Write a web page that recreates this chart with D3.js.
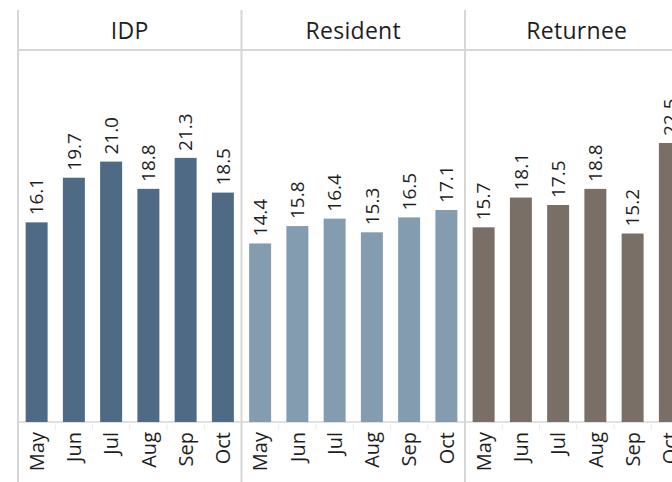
<!DOCTYPE html>
<html lang="en">
<head>
    <meta charset="UTF-8">
    <title>Monthly values by status</title>
    <style>
        body { margin: 0; background: #fff; }
        svg { display: block; font-family: "Open Sans", "Noto Sans", sans-serif; }
    </style>
</head>
<body>
<svg></svg>
<script src="https://d3js.org/d3.v7.min.js"></script>
<script>
    var groups = ["IDP", "Resident", "Returnee"];
    var months = ["May", "Jun", "Jul", "Aug", "Sep", "Oct"];
    var idpValues = [16.1, 19.7, 21.0, 18.8, 21.3, 18.5];
    var residentValues = [14.4, 15.8, 16.4, 15.3, 16.5, 17.1];
    var returneeValues = [15.7, 18.1, 17.5, 18.8, 15.2, 22.5];
    var groupColors = ["#4e6a84", "#849cb0", "#7a6f66"];

    var width = 672;
    var height = 482;
    var left = 18;
    var paneWidth = 223.5;
    var headerTop = 10;
    var plotTop = 50;
    var plotBottom = 422;
    var lineColor = "#d6d6d6";
    var textColor = "#1e1e1e";

    var seriesByGroup = [idpValues, residentValues, returneeValues];

    var svg = d3.select("svg")
        .attr("width", width)
        .attr("height", height);

    var paneScale = d3.scaleBand().domain(groups)
        .range([left, left + paneWidth * groups.length]);
    var xScale = d3.scaleBand().domain(months)
        .range([0, paneWidth])
        .paddingInner(0.41)
        .paddingOuter(0.205);
    var yScale = d3.scaleLinear().domain([0, 30]).range([plotBottom, plotTop]);

    // header row line and axis baseline
    svg.append("line")
        .attr("x1", left).attr("x2", width)
        .attr("y1", plotTop).attr("y2", plotTop)
        .attr("stroke", lineColor).attr("stroke-width", 2);
    svg.append("line")
        .attr("x1", left).attr("x2", width)
        .attr("y1", plotBottom).attr("y2", plotBottom)
        .attr("stroke", lineColor).attr("stroke-width", 1.5);

    var pane = svg.selectAll("g.pane")
        .data(groups)
        .enter().append("g")
        .attr("class", "pane")
        .attr("transform", function (d) {
            return "translate(" + paneScale(d) + ",0)";
        });

    // small separators between month labels
    pane.selectAll("line.sep")
        .data(months.slice(1))
        .enter().append("line")
        .attr("class", "sep")
        .attr("x1", function (d) { return xScale(d) - xScale.step() * xScale.paddingInner() / 2; })
        .attr("x2", function (d) { return xScale(d) - xScale.step() * xScale.paddingInner() / 2; })
        .attr("y1", plotBottom).attr("y2", plotBottom + 8)
        .attr("stroke", "#ececec").attr("stroke-width", 1);

    pane.append("text")
        .attr("x", paneWidth / 2)
        .attr("y", (headerTop + plotTop) / 2 + 1)
        .attr("dy", "0.35em")
        .attr("text-anchor", "middle")
        .attr("font-size", "23px")
        .attr("letter-spacing", "0.3px")
        .attr("fill", textColor)
        .text(function (d) { return d; });

    pane.each(function (g, gi) {
        var vals = seriesByGroup[gi];
        var sel = d3.select(this);

        sel.selectAll("rect")
            .data(vals)
            .enter().append("rect")
            .attr("x", function (d, i) { return xScale(months[i]); })
            .attr("y", function (d) { return yScale(d); })
            .attr("width", xScale.bandwidth())
            .attr("height", function (d) { return plotBottom - yScale(d); })
            .attr("fill", groupColors[gi]);

        sel.selectAll("text.val")
            .data(vals)
            .enter().append("text")
            .attr("class", "val")
            .attr("transform", function (d, i) {
                var cx = xScale(months[i]) + xScale.bandwidth() / 2;
                return "translate(" + cx + "," + (yScale(d) - 7) + ") rotate(-90)";
            })
            .attr("dy", "0.36em")
            .attr("font-size", "19px")
            .attr("fill", textColor)
            .text(function (d) { return d.toFixed(1); });

        sel.selectAll("text.month")
            .data(months)
            .enter().append("text")
            .attr("class", "month")
            .attr("transform", function (d) {
                var cx = xScale(d) + xScale.bandwidth() / 2;
                return "translate(" + cx + "," + (plotBottom + 10) + ") rotate(-90)";
            })
            .attr("dy", "0.36em")
            .attr("text-anchor", "end")
            .attr("font-size", "20px")
            .attr("fill", textColor)
            .text(function (d) { return d; });
    });

    // pane dividers
    svg.selectAll("line.divider")
        .data(groups)
        .enter().append("line")
        .attr("class", "divider")
        .attr("x1", function (d) { return paneScale(d); })
        .attr("x2", function (d) { return paneScale(d); })
        .attr("y1", headerTop).attr("y2", height)
        .attr("stroke", lineColor).attr("stroke-width", 2);
</script>
</body>
</html>
